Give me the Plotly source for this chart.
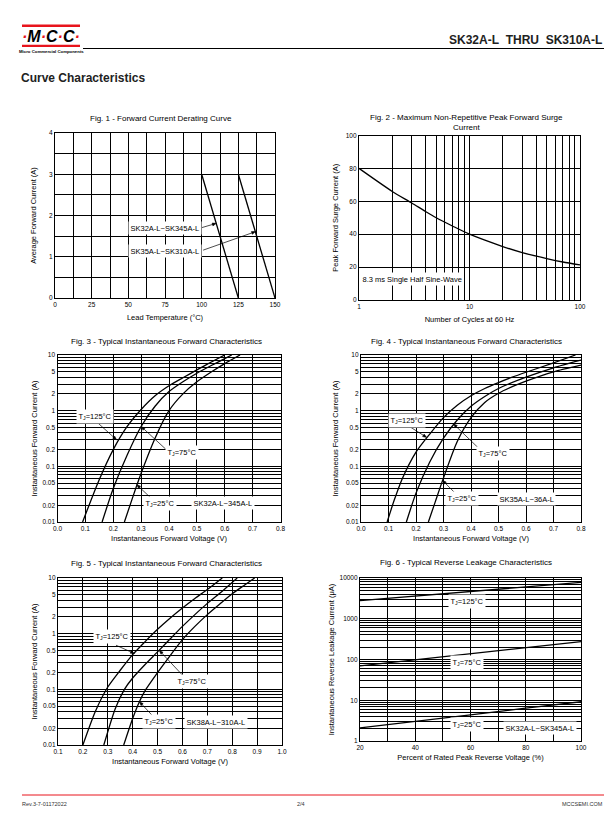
import math
import plotly.graph_objects as go

W, H = 612, 825
FONT = "Liberation Sans, Arial, sans-serif"

# ---------------- data ----------------
# Fig 1 - derating
f1_temp_a = [100, 125]
f1_cur_a = [3, 0]
f1_temp_b = [125, 150]
f1_cur_b = [3, 0]

# Fig 2 - surge
f2_cycles = [1, 2, 3, 4, 5, 7, 10, 20, 30, 50, 70, 100]
f2_current = [80, 66, 59, 53.8, 50, 45, 40, 32.5, 28.8, 25.2, 23.1, 21.3]

# Fig 3 - SK32A-L~345A-L
f3_v125 = [0.09, 0.1, 0.15, 0.2, 0.25, 0.3, 0.35, 0.4, 0.45, 0.5, 0.55, 0.6]
f3_i125 = [0.01, 0.0135, 0.058, 0.2, 0.52, 1.05, 1.85, 2.8, 3.9, 5.4, 7.4, 10]
f3_v75 = [0.16, 0.2, 0.25, 0.3, 0.35, 0.4, 0.45, 0.5, 0.55, 0.6, 0.625]
f3_i75 = [0.01, 0.04, 0.16, 0.52, 1.2, 2.2, 3.3, 4.7, 6.4, 8.6, 10]
f3_v25 = [0.24, 0.27, 0.3, 0.35, 0.4, 0.45, 0.5, 0.55, 0.6, 0.655]
f3_i25 = [0.01, 0.028, 0.075, 0.32, 1.0, 2.0, 3.3, 4.9, 7.0, 10]

# Fig 4 - SK35A-L~36A-L
f4_v125 = [0.095, 0.12, 0.15, 0.2, 0.25, 0.3, 0.35, 0.4, 0.45, 0.5, 0.55, 0.6, 0.7, 0.78]
f4_i125 = [0.01, 0.024, 0.06, 0.18, 0.38, 0.75, 1.25, 1.85, 2.5, 3.2, 4.0, 4.9, 7.2, 10]
f4_v75 = [0.165, 0.2, 0.25, 0.3, 0.35, 0.4, 0.45, 0.5, 0.6, 0.7, 0.8]
f4_i75 = [0.01, 0.033, 0.12, 0.32, 0.68, 1.2, 1.8, 2.5, 4.0, 5.9, 8.1]
f4_v25 = [0.245, 0.27, 0.3, 0.35, 0.4, 0.45, 0.5, 0.55, 0.6, 0.7, 0.8]
f4_i25 = [0.01, 0.023, 0.062, 0.28, 0.75, 1.4, 2.05, 2.7, 3.4, 5.0, 6.6]

# Fig 5 - SK38A-L~310A-L
f5_v125 = [0.2, 0.25, 0.3, 0.35, 0.4, 0.45, 0.5, 0.55, 0.6, 0.65, 0.7, 0.76]
f5_i125 = [0.01, 0.04, 0.11, 0.22, 0.42, 0.72, 1.2, 1.9, 2.9, 4.3, 6.2, 10]
f5_v75 = [0.284, 0.33, 0.367, 0.4, 0.45, 0.5, 0.55, 0.6, 0.65, 0.7, 0.75, 0.82]
f5_i75 = [0.01, 0.045, 0.1, 0.16, 0.28, 0.47, 0.8, 1.35, 2.2, 3.5, 5.3, 10]
f5_v25 = [0.364, 0.4, 0.427, 0.45, 0.5, 0.55, 0.6, 0.65, 0.7, 0.75, 0.8, 0.85, 0.89]
f5_i25 = [0.01, 0.03, 0.06, 0.095, 0.2, 0.4, 0.78, 1.35, 2.2, 3.4, 5.2, 7.5, 10]

# Fig 6 - reverse leakage
f6_pct = [20, 40, 60, 80, 100]
f6_i125 = [2800, 3600, 4650, 6000, 7800]
f6_i75 = [70, 98, 138, 195, 275]
f6_i25 = [2.1, 3.1, 4.4, 6.4, 9.2]

# tick labels
f1_xticks = [0, 25, 50, 75, 100, 125, 150]
f1_yticks = [0, 1, 2, 3, 4]
f2_xticks = [1, 10, 100]
f2_yticks = [0, 20, 40, 60, 80, 100]
vf_xticks = [0.0, 0.1, 0.2, 0.3, 0.4, 0.5, 0.6, 0.7, 0.8]
vf5_xticks = [0.1, 0.2, 0.3, 0.4, 0.5, 0.6, 0.7, 0.8, 0.9, 1.0]
vf_yticks = [0.01, 0.02, 0.05, 0.1, 0.2, 0.5, 1, 2, 5, 10]
f6_xticks = [20, 40, 60, 80, 100]
f6_yticks = [1, 10, 100, 1000, 10000]

# axis titles
VF_X = "Instantaneous Forward Voltage (V)"
IF_Y = "Instantaneous Forward Current (A)"
titles = {
    1: ("Lead Temperature (°C)", "Average Forward Current (A)"),
    2: ("Number of Cycles at 60 Hz", "Peak Forward Surge Current (A)"),
    3: (VF_X, IF_Y),
    4: (VF_X, IF_Y),
    5: (VF_X, IF_Y),
    6: ("Percent of Rated Peak Reverse Voltage (%)", "Instantaneous Reverse Leakage Current (μA)"),
}
# (x-title standoff, y-title standoff) in px
standoffs = {1: (7, 11), 2: (7, 6), 3: (4, 3), 4: (4, 6), 5: (4, 4), 6: (4, 3)}


def px(x):
    return x / W


def py(y):
    return 1 - y / H


def log_grid(lo_exp, hi_exp):
    vals = []
    for e in range(lo_exp, hi_exp):
        for m in range(1, 10):
            vals.append(round(m * 10 ** e, 6))
    vals.append(round(10 ** hi_exp, 6))
    return vals


fig = go.Figure()

# plot areas in pixels: (x0, x1, y_top, y_bottom)
boxes = {
    1: (55, 275, 133, 298),
    2: (359, 580, 135.5, 300),
    3: (57.5, 280.5, 355, 522),
    4: (361, 581, 355, 522),
    5: (58, 282, 578, 745),
    6: (360, 581, 578, 741),
}

line_style = dict(color="black", width=1.3)


def add(i, x, y, name, shape="spline"):
    fig.add_trace(go.Scatter(x=x, y=y, mode="lines", name=name,
                             line=dict(shape=shape, smoothing=0.7, **line_style),
                             xaxis="x%d" % i if i > 1 else "x", yaxis="y%d" % i if i > 1 else "y",
                             showlegend=False, hoverinfo="x+y"))


add(1, f1_temp_a, f1_cur_a, "SK32A-L~SK345A-L", shape="linear")
add(1, f1_temp_b, f1_cur_b, "SK35A-L~SK310A-L", shape="linear")
add(2, f2_cycles, f2_current, "Surge")
add(3, f3_v125, f3_i125, "TJ=125°C")
add(3, f3_v75, f3_i75, "TJ=75°C")
add(3, f3_v25, f3_i25, "TJ=25°C")
add(4, f4_v125, f4_i125, "TJ=125°C")
add(4, f4_v75, f4_i75, "TJ=75°C")
add(4, f4_v25, f4_i25, "TJ=25°C")
add(5, f5_v125, f5_i125, "TJ=125°C")
add(5, f5_v75, f5_i75, "TJ=75°C")
add(5, f5_v25, f5_i25, "TJ=25°C")
add(6, f6_pct, f6_i125, "TJ=125°C", shape="linear")
add(6, f6_pct, f6_i75, "TJ=75°C", shape="linear")
add(6, f6_pct, f6_i25, "TJ=25°C", shape="linear")

tickfont = dict(family=FONT, size=6.5, color="black")
AT = 7.5


def axis_common(domain, rng, typ, gridvals, labeled, textfmt, title, standoff):
    minor_vals = [v for v in gridvals if all(abs(v - m) > 1e-9 for m in labeled)]
    return dict(domain=domain, range=rng, type=typ, tickmode="array", tickvals=labeled,
                ticktext=[textfmt % v for v in labeled],
                showgrid=True, gridcolor="black", gridwidth=0.9, zeroline=False,
                showline=True, linecolor="black", linewidth=1.2, mirror=True,
                ticks="", tickfont=tickfont, fixedrange=True, automargin=False,
                title=dict(text=title, standoff=standoff, font=dict(family=FONT, size=AT, color="black")),
                minor=dict(tickmode="array", tickvals=minor_vals, showgrid=True,
                           gridcolor="black", gridwidth=0.9, ticks=""))


axes_spec = {
    1: (([0, 150], "linear", [i * 12.5 for i in range(13)], f1_xticks, "%g"),
        ([0, 4], "linear", [i * 0.5 for i in range(9)], f1_yticks, "%g")),
    2: (([0, 2], "log", log_grid(0, 2), f2_xticks, "%g"),
        ([0, 100], "linear", f2_yticks, f2_yticks, "%g")),
    3: (([0, 0.8], "linear", vf_xticks, vf_xticks, "%.1f"),
        ([-2, 1], "log", log_grid(-2, 1), vf_yticks, "%g")),
    4: (([0, 0.8], "linear", vf_xticks, vf_xticks, "%.1f"),
        ([-2, 1], "log", log_grid(-2, 1), vf_yticks, "%g")),
    5: (([0.1, 1.0], "linear", vf5_xticks, vf5_xticks, "%.1f"),
        ([-2, 1], "log", log_grid(-2, 1), vf_yticks, "%g")),
    6: (([20, 100], "linear", [20, 30, 40, 50, 60, 70, 80, 90, 100], f6_xticks, "%g"),
        ([0, 4], "log", log_grid(0, 4), f6_yticks, "%g")),
}

layout_axes = {}
for i, (xs, ys) in axes_spec.items():
    x0, x1, yt, yb = boxes[i]
    xa = axis_common([px(x0), px(x1)], *xs, titles[i][0], standoffs[i][0])
    ya = axis_common([py(yb), py(yt)], *ys, titles[i][1], standoffs[i][1])
    xa["anchor"] = "y" if i == 1 else "y%d" % i
    ya["anchor"] = "x" if i == 1 else "x%d" % i
    layout_axes["xaxis" if i == 1 else "xaxis%d" % i] = xa
    layout_axes["yaxis" if i == 1 else "yaxis%d" % i] = ya

fig.update_layout(width=W, height=H, autosize=False, margin=dict(l=0, r=0, t=0, b=0),
                  paper_bgcolor="white", plot_bgcolor="white", showlegend=False,
                  font=dict(family=FONT, color="black"), **layout_axes)

annotations = []
shapes = []


def ptext(x, y, text, size=8, xanchor="center", bold=False, angle=0, color="black"):
    annotations.append(dict(x=px(x), y=py(y), xref="paper", yref="paper",
                            text=("<b>%s</b>" % text) if bold else text,
                            showarrow=False, xanchor=xanchor, yanchor="middle", textangle=angle,
                            font=dict(family=FONT, size=size, color=color)))


# figure titles
ptext(161, 118.5, "Fig. 1 - Forward Current Derating Curve")
ptext(466, 117, "Fig. 2 - Maximum Non-Repetitive Peak Forward Surge")
ptext(466, 127.5, "Current")
ptext(166, 341, "Fig. 3 - Typical Instantaneous Forward Characteristics")
ptext(466, 341, "Fig. 4 - Typical Instantaneous Forward Characteristics")
ptext(167, 563, "Fig. 5 - Typical Instantaneous Forward Characteristics")
ptext(466, 562, "Fig. 6 - Typical Reverse Leakage Characteristics")

# header
RED = "#e8141c"
shapes.append(dict(type="rect", xref="paper", yref="paper", x0=px(22), x1=px(80), y0=py(27), y1=py(24.5),
                   fillcolor=RED, line=dict(width=0)))
shapes.append(dict(type="rect", xref="paper", yref="paper", x0=px(22), x1=px(80), y0=py(47), y1=py(44.8),
                   fillcolor=RED, line=dict(width=0)))
dot = "<span style='color:%s'>·</span>" % RED
annotations.append(dict(x=px(51), y=py(36), xref="paper", yref="paper", showarrow=False,
                        xanchor="center", yanchor="middle",
                        text="<b><i>%sM%sC%sC%s</i></b>" % (dot, dot, dot, dot),
                        font=dict(family=FONT, size=16, color="black")))
ptext(51, 51.5, "Micro Commercial Components", 4.3, bold=True)
shapes.append(dict(type="line", xref="paper", yref="paper", x0=px(83), x1=px(604), y0=py(48.5), y1=py(48.5),
                   line=dict(color="black", width=1)))
ptext(604, 40, "SK32A-L&nbsp;&nbsp;THRU&nbsp;&nbsp;SK310A-L", 12, xanchor="right", bold=True, color="#222")
ptext(19, 78, "Curve Characteristics", 12, xanchor="left", bold=True, color="#222")

# footer
shapes.append(dict(type="line", xref="paper", yref="paper", x0=px(22), x1=px(604), y0=py(795), y1=py(795),
                   line=dict(color=RED, width=1)))
ptext(20, 804, "Rev.3-7-01172022", 5.5, xanchor="left", color="#333")
ptext(301, 804, "2/4", 5.5, color="#333")
ptext(605, 804, "MCCSEMI.COM", 5.5, xanchor="right", color="#333")

# in-plot labels / arrows
LOGS = {1: (False, False), 2: (True, False), 3: (False, True), 4: (False, True), 5: (False, True), 6: (False, True)}
RANGES = {i: (axes_spec[i][0][0], axes_spec[i][1][0]) for i in axes_spec}


def cv(i, x, y):
    lx, ly = LOGS[i]
    return (math.log10(x) if lx else x), (math.log10(y) if ly else y)


def to_pix(i, x, y):
    X, Y = cv(i, x, y)
    (xr0, xr1), (yr0, yr1) = RANGES[i]
    x0, x1, yt, yb = boxes[i]
    return x0 + (X - xr0) / (xr1 - xr0) * (x1 - x0), yb - (Y - yr0) / (yr1 - yr0) * (yb - yt)


def ref(i):
    return ("x", "y") if i == 1 else ("x%d" % i, "y%d" % i)


def label(i, x, y, text, xanchor="center"):
    X, Y = cv(i, x, y)
    xr, yr = ref(i)
    annotations.append(dict(x=X, y=Y, xref=xr, yref=yr, text=text, showarrow=False, xanchor=xanchor,
                            yanchor="middle", bgcolor="white", borderpad=1.5,
                            font=dict(family=FONT, size=7.5, color="black")))


def arrow(i, tx, ty, hx, hy):
    # pointer line with a small arrowhead, drawn as shapes
    ax_, ay_ = to_pix(i, tx, ty)
    bx, by = to_pix(i, hx, hy)
    L = math.hypot(bx - ax_, by - ay_)
    dx, dy = (bx - ax_) / L, (by - ay_) / L
    nx, ny = -dy, dx
    hl, hw = 4.0, 1.5
    shapes.append(dict(type="line", xref="paper", yref="paper", x0=px(ax_), y0=py(ay_),
                       x1=px(bx - dx * 2), y1=py(by - dy * 2), line=dict(color="black", width=0.7)))
    p1 = (bx - dx * hl + nx * hw, by - dy * hl + ny * hw)
    p2 = (bx - dx * hl - nx * hw, by - dy * hl - ny * hw)
    path = "M %f %f L %f %f L %f %f Z" % (px(bx), py(by), px(p1[0]), py(p1[1]), px(p2[0]), py(p2[1]))
    shapes.append(dict(type="path", xref="paper", yref="paper", path=path, fillcolor="black",
                       line=dict(color="black", width=0.5)))


TJ125 = "T<sub>J</sub>=125°C"
TJ75 = "T<sub>J</sub>=75°C"
TJ25 = "T<sub>J</sub>=25°C"

# Fig 1
label(1, 75, 1.70, "SK32A-L~SK345A-L")
arrow(1, 99.5, 1.70, 110.0, 1.81)
label(1, 75, 1.14, "SK35A-L~SK310A-L")
arrow(1, 101, 1.16, 136.8, 1.61)
# Fig 2
label(2, 1.03, 12.6, "8.3 ms Single Half Sine-Wave", xanchor="left")
# Fig 3
label(3, 0.136, 0.8, TJ125)
arrow(3, 0.145, 0.6, 0.212, 0.3)
label(3, 0.446, 0.175, TJ75)
arrow(3, 0.39, 0.2, 0.3, 0.52)
label(3, 0.368, 0.0216, TJ25)
arrow(3, 0.335, 0.027, 0.284, 0.047)
label(3, 0.593, 0.0216, "SK32A-L~345A-L")
# Fig 4
label(4, 0.169, 0.66, TJ125)
arrow(4, 0.166, 0.56, 0.239, 0.33)
label(4, 0.48, 0.17, TJ75)
arrow(4, 0.433, 0.2, 0.336, 0.58)
label(4, 0.366, 0.026, TJ25)
arrow(4, 0.354, 0.029, 0.296, 0.056)
label(4, 0.6, 0.026, "SK35A-L~36A-L")
# Fig 5
label(5, 0.317, 0.88, TJ125)
arrow(5, 0.333, 0.62, 0.407, 0.44)
label(5, 0.64, 0.141, TJ75)
arrow(5, 0.60, 0.18, 0.507, 0.5)
label(5, 0.507, 0.026, TJ25)
arrow(5, 0.49, 0.03, 0.427, 0.06)
label(5, 0.736, 0.026, "SK38A-L~310A-L")
# Fig 6
label(6, 58.6, 2700, TJ125)
label(6, 58.6, 83, TJ75)
label(6, 58.6, 2.56, TJ25)
label(6, 85, 2.05, "SK32A-L~SK345A-L")

fig.update_layout(annotations=annotations, shapes=shapes)
fig.write_html("out.html", config={"displayModeBar": False},
               post_script="document.body.style.margin='0';")
